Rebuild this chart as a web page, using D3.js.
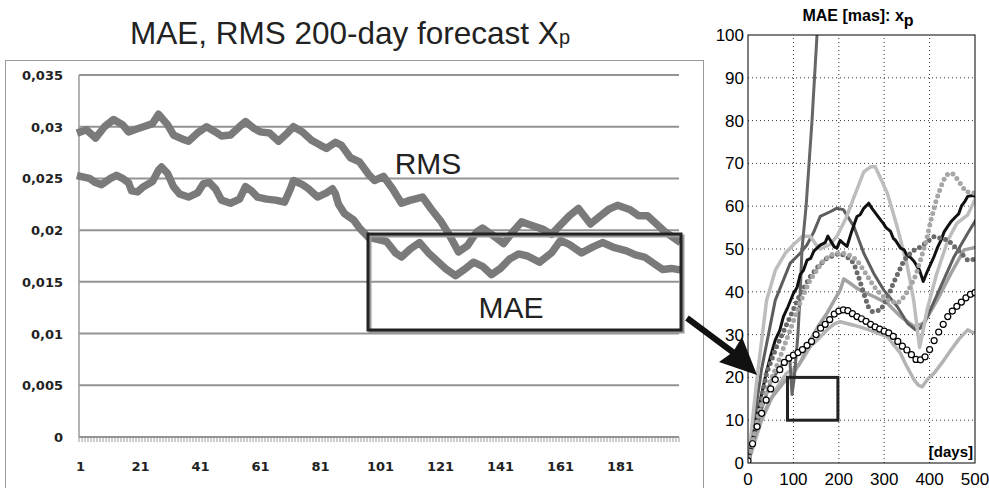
<!DOCTYPE html>
<html>
<head>
<meta charset="utf-8">
<script src="https://cdn.jsdelivr.net/npm/d3@7"></script>
<style>
  body { margin: 0; background: #fff; }
  svg { display: block; }
</style>
</head>
<body>
<div id="chart"></div>
<script>
// ---- left chart: 200-day forecast (values in 0.001 units) ----
const rmsPoints = [[1,29.5],[3,29.7],[6,28.9],[9,30.0],[12,30.7],[15,30.2],[17,29.5],[20,29.8],[22,30.0],[25,30.3],[27,31.2],[30,30.2],[32,29.2],[35,28.8],[37,28.6],[40,29.4],[43,30.0],[46,29.5],[48,29.1],[51,29.2],[54,30.0],[56,30.5],[59,29.8],[61,29.5],[64,29.4],[67,28.6],[70,29.4],[72,30.0],[75,29.5],[78,28.7],[81,28.2],[83,27.9],[86,28.5],[88,28.2],[91,27.0],[94,26.6],[97,25.4],[99,24.8],[102,25.2],[105,24.0],[108,22.6],[111,22.9],[115,23.2],[118,22.0],[121,20.9],[124,19.5],[127,17.9],[130,18.5],[133,19.8],[135,20.2],[138,19.6],[142,18.7],[145,19.8],[148,20.8],[151,20.5],[155,20.1],[158,19.6],[161,20.5],[164,21.4],[167,22.1],[171,20.6],[174,21.3],[177,22.0],[180,22.4],[184,22.0],[187,21.4],[190,21.4],[193,20.6],[196,19.8],[200,19.0]];
const maePoints = [[1,25.2],[4,25.0],[6,24.6],[8,24.4],[11,25.0],[13,25.3],[15,25.0],[17,24.6],[18,23.8],[20,23.7],[22,24.2],[25,24.7],[27,25.8],[28,26.1],[30,25.5],[32,24.2],[34,23.5],[37,23.2],[40,23.6],[42,24.5],[44,24.6],[46,24.0],[48,22.9],[51,22.6],[54,23.0],[56,24.2],[58,23.8],[60,23.2],[63,23.0],[66,22.9],[69,22.7],[71,24.0],[72,24.8],[75,24.4],[77,24.0],[80,23.2],[83,23.6],[85,24.0],[86,23.5],[87,22.5],[89,21.6],[92,21.0],[94,20.2],[97,19.3],[100,19.1],[103,18.9],[106,17.8],[108,17.4],[111,18.2],[114,18.8],[117,17.8],[120,17.0],[123,16.2],[126,15.6],[129,16.2],[132,16.9],[135,16.5],[138,15.7],[141,16.3],[144,17.2],[147,17.7],[150,17.5],[154,16.9],[158,17.8],[161,19.0],[164,18.6],[168,17.8],[172,18.4],[175,18.8],[179,18.3],[183,18.0],[186,17.6],[189,17.4],[192,16.8],[195,16.2],[198,16.3],[200,16.2]];
const leftCategories = d3.range(1, 201);
const leftTickLabels = [1, 21, 41, 61, 81, 101, 121, 141, 161, 181];
const leftYTicks = [0, 0.005, 0.01, 0.015, 0.02, 0.025, 0.03, 0.035];

// ---- right chart: MAE [mas] x_p, days 0..500 ----
const steepLine = [[0,0],[25,11],[50,19],[75,23],[92,24.5],[97,16],[102,20],[110,30],[115,40],[119,50],[128,60],[141,80],[152,100],[160,112]];
const blackLine = [[0,0],[20,11],[40,21],[50,25],[60,28.7],[70,31],[78,34.2],[88,36.5],[100,39.6],[108,41],[115,44],[122,45],[130,47.4],[138,47.8],[145,49.5],[152,50.2],[159,50.9],[170,51.5],[176,53],[181,52.1],[190,50.5],[196,50.2],[203,52],[208,51.5],[218,50.6],[228,54],[240,57.6],[247,58],[255,59.5],[266,60.7],[273,59.5],[280,58.5],[292,56.8],[298,56],[304,55],[314,54.1],[320,52.5],[325,52],[336,50.2],[344,49.8],[350,48.5],[358,48],[366,47.1],[372,46],[378,45],[386,42.4],[392,44],[398,45.5],[410,48.3],[418,50.5],[425,52],[432,54],[440,55.3],[448,56.5],[458,57.6],[464,58.2],[470,60],[477,61],[484,62.3],[495,62.5],[502,62.3]];
const lightPeakLine = [[0,0],[20,20],[41,38],[60,45],[82,49],[100,51],[120,53],[137,53],[150,51],[159,50],[180,51],[196,53],[215,57],[233,62],[255,68],[270,69.2],[280,69.3],[290,67],[307,63],[329,55],[351,46],[365,38],[378,27],[395,36],[415,44],[440,52],[460,56],[484,58],[502,62]];
const darkGrayLine = [[0,0],[30,22],[60,38],[93,46.7],[115,49],[130,51],[145,54],[159,57.6],[181,58.7],[195,59.5],[210,59.2],[220,57.5],[233,55.3],[255,49],[277,44.3],[299,40.4],[329,36.5],[351,32.7],[369,31.1],[380,31.5],[395,34.2],[425,41.3],[454,48.2],[484,53.7],[502,56.8]];
const darkDots = [[0,0],[20,10],[41,21],[63,27.2],[93,34.2],[115,39.5],[137,43.5],[155,46],[174,47.9],[203,49],[220,48],[233,46.7],[245,43],[255,39.6],[265,36.5],[274,35.4],[292,35.7],[307,38.5],[320,42],[344,47.4],[362,49.5],[380,50.5],[410,52.9],[440,52.1],[462,49.8],[484,47.4],[495,47.5],[502,48.2]];
const lightDots = [[0,0],[25,12],[45,18],[63,22.6],[93,31.1],[115,37.5],[137,42.8],[167,47.4],[189,49],[211,49],[225,48.5],[240,47.4],[258,44.5],[277,41.3],[292,39.5],[307,38.1],[329,37.3],[345,39],[358,41.3],[370,44],[380,47.4],[393,52],[403,56.8],[415,61.5],[425,64.6],[435,67],[443,67.7],[452,67.5],[462,66.2],[480,63.4],[502,63]];
const midGrayLine = [[0,0],[20,8],[50,15],[80,19],[100,21],[115,23.4],[137,28.7],[155,32],[174,35],[190,38],[203,40.4],[211,43],[225,42],[240,40.8],[258,39.8],[277,38.9],[307,37.3],[336,34.2],[366,31.9],[388,32.7],[400,35],[417,38.1],[447,44.3],[476,49.8],[506,50.5]];
const lowLightLine = [[0,0],[30,10],[60,17],[85,21],[108,22.5],[122,24.5],[137,27.2],[155,29],[174,31.1],[190,32.5],[203,33],[218,32.6],[233,32.2],[255,31.5],[277,30.7],[307,29.5],[322,27.5],[336,25.6],[350,22.5],[366,19.4],[375,18.2],[384,17.8],[395,19.5],[410,21],[428,23.5],[447,26.4],[465,29],[484,31.1],[495,30.5],[506,30.3]];
const circleDays = d3.range(0, 501, 10);
const circleValues = [0.5,4.5,8.5,11.6,14.7,17.3,19.5,21.8,23.5,24.5,25.2,25.8,26.5,27.5,28.4,30,31.5,32.4,33.5,34.8,35.5,35.8,35.6,34.9,34.2,33.7,33.1,32.4,31.8,31.3,30.8,30.4,29.6,28.4,27.3,26.4,25.3,24.2,24.1,24.8,26.5,28.6,30.6,32.4,34.2,35.5,36.6,37.6,38.6,39.4,39.8];
const rightXTicks = [0, 100, 200, 300, 400, 500];
const rightYTicks = d3.range(0, 101, 10);

const width = 989, height = 488;
const svg = d3.select("#chart").append("svg")
  .attr("width", width).attr("height", height)
  .style("font-family", "'Liberation Sans', Arial, sans-serif");

svg.append("rect").attr("width", width).attr("height", height).attr("fill", "#fff");

// ================= LEFT CHART =================
const x = d3.scaleBand().domain(leftCategories).range([79, 679]);
const y = d3.scaleLinear().domain([0, 0.035]).range([437, 75]);
const cx = d => x(d) + x.bandwidth() / 2;

// outer frame
svg.append("rect")
  .attr("x", 5.5).attr("y", 60.5).attr("width", 698).attr("height", 440)
  .attr("fill", "none").attr("stroke", "#9a9a9a").attr("stroke-width", 1);

// title
const title = svg.append("text")
  .attr("x", 350).attr("y", 44).attr("text-anchor", "middle")
  .attr("font-size", 31.5).attr("fill", "#222")
  .text("MAE, RMS 200-day forecast X");
title.append("tspan").attr("font-size", 20).text("p");

// gridlines
svg.append("g").selectAll("line").data(leftYTicks).join("line")
  .attr("x1", 79).attr("x2", 679)
  .attr("y1", d => y(d)).attr("y2", d => y(d))
  .attr("stroke", "#939393").attr("stroke-width", 2);

// y axis line
svg.append("line").attr("x1", 79).attr("x2", 79).attr("y1", y(0.035)).attr("y2", y(0))
  .attr("stroke", "#9a9a9a").attr("stroke-width", 1.5);

// category ticks
svg.append("g").selectAll("line").data(leftCategories.concat([201])).join("line")
  .attr("x1", d => d > 200 ? 679 : x(d)).attr("x2", d => d > 200 ? 679 : x(d))
  .attr("y1", y(0)).attr("y2", y(0) + 5)
  .attr("stroke", "#9a9a9a").attr("stroke-width", 1);

const fmtComma = v => String(+v.toFixed(3)).replace(".", ",");
svg.append("g").selectAll("text").data(leftYTicks).join("text")
  .attr("x", 63).attr("y", d => y(d) + 5).attr("text-anchor", "end")
  .attr("font-family", "'DejaVu Sans', sans-serif").attr("font-weight", "bold")
  .attr("font-size", 13).attr("fill", "#222")
  .text(fmtComma);

svg.append("g").selectAll("text").data(leftTickLabels).join("text")
  .attr("x", d => cx(d)).attr("y", 471).attr("text-anchor", "middle")
  .attr("font-family", "'DejaVu Sans', sans-serif").attr("font-weight", "bold")
  .attr("font-size", 13).attr("fill", "#222")
  .text(d => d);

const leftLine = d3.line().x(d => cx(d[0])).y(d => y(d[1] / 1000)).curve(d3.curveLinear);
[rmsPoints, maePoints].forEach(series => {
  svg.append("path").datum(series)
    .attr("d", leftLine).attr("fill", "none")
    .attr("stroke", "#7a7a7a").attr("stroke-width", 7.5)
    .attr("stroke-linejoin", "round").attr("stroke-linecap", "square");
});

svg.append("text").attr("x", 428).attr("y", 174).attr("text-anchor", "middle")
  .attr("font-size", 30).attr("fill", "#222").text("RMS");

// highlight box
svg.append("rect").attr("x", 370).attr("y", 236).attr("width", 313).attr("height", 96)
  .attr("fill", "none").attr("stroke", "#999").attr("stroke-width", 3);
svg.append("rect").attr("x", 368).attr("y", 234).attr("width", 313).attr("height", 96)
  .attr("fill", "none").attr("stroke", "#222").attr("stroke-width", 3);
svg.append("text").attr("x", 511).attr("y", 318).attr("text-anchor", "middle")
  .attr("font-size", 30).attr("fill", "#222").text("MAE");

// ================= RIGHT CHART =================
const xr = d3.scaleLinear().domain([0, 500]).range([748, 975]);
const yr = d3.scaleLinear().domain([0, 100]).range([463, 35]);

svg.append("defs").append("clipPath").attr("id", "rclip")
  .append("rect").attr("x", xr(0)).attr("y", yr(100))
  .attr("width", xr(500) - xr(0)).attr("height", yr(0) - yr(100));

const grid = svg.append("g");
grid.selectAll(".vg").data(rightXTicks.slice(1, -1)).join("line")
  .attr("x1", d => xr(d)).attr("x2", d => xr(d)).attr("y1", yr(0)).attr("y2", yr(100))
  .attr("stroke", "#333").attr("stroke-width", 1).attr("stroke-dasharray", "1,3");
grid.selectAll(".hg").data(rightYTicks.slice(1, -1)).join("line")
  .attr("x1", xr(0)).attr("x2", xr(500)).attr("y1", d => yr(d)).attr("y2", d => yr(d))
  .attr("stroke", "#333").attr("stroke-width", 1).attr("stroke-dasharray", "1,3");

const rline = d3.line().x(d => xr(d[0])).y(d => yr(d[1]));
const plot = svg.append("g").attr("clip-path", "url(#rclip)");

const solidSeries = [
  { data: lowLightLine, color: "#b4b4b4", w: 3.5 },
  { data: midGrayLine, color: "#a2a2a2", w: 3.5 },
  { data: darkGrayLine, color: "#5e5e5e", w: 3 },
  { data: lightPeakLine, color: "#bdbdbd", w: 3.5 },
  { data: steepLine, color: "#666", w: 3 },
  { data: blackLine, color: "#111", w: 3 }
];
const dotSeries = [
  { data: darkDots, color: "#6a6a6a" },
  { data: lightDots, color: "#a6a6a6" }
];

solidSeries.forEach(s => {
  plot.append("path").datum(s.data).attr("d", rline).attr("fill", "none")
    .attr("stroke", s.color).attr("stroke-width", s.w).attr("stroke-linejoin", "round");
});
dotSeries.forEach(s => {
  plot.append("path").datum(s.data).attr("d", rline).attr("fill", "none")
    .attr("stroke", s.color).attr("stroke-width", 5)
    .attr("stroke-linecap", "round").attr("stroke-dasharray", "0,6");
});
plot.append("g").selectAll("circle").data(circleDays).join("circle")
  .attr("cx", d => xr(d)).attr("cy", (d, i) => yr(circleValues[i])).attr("r", 3)
  .attr("fill", "#fff").attr("stroke", "#000").attr("stroke-width", 1.2);

// axes box
svg.append("rect").attr("x", xr(0)).attr("y", yr(100))
  .attr("width", xr(500) - xr(0)).attr("height", yr(0) - yr(100))
  .attr("fill", "none").attr("stroke", "#000").attr("stroke-width", 1);

svg.append("g").selectAll("text").data(rightYTicks).join("text")
  .attr("x", 744).attr("y", d => yr(d) + 6).attr("text-anchor", "end")
  .attr("font-size", 17).attr("fill", "#000").text(d => d);
svg.append("g").selectAll("text").data(rightXTicks).join("text")
  .attr("x", d => xr(d)).attr("y", 485).attr("text-anchor", "middle")
  .attr("font-size", 17).attr("fill", "#000").text(d => d);

const rTitle = svg.append("text").attr("x", 858).attr("y", 21).attr("text-anchor", "middle")
  .attr("font-size", 16).attr("font-weight", "bold").attr("fill", "#000")
  .text("MAE [mas]: x");
rTitle.append("tspan").attr("dy", 5).text("p");

svg.append("text").attr("x", 973).attr("y", 457).attr("text-anchor", "end")
  .attr("font-size", 15).attr("font-weight", "bold").attr("fill", "#000").text("[days]");

// small box on right chart
svg.append("rect").attr("x", xr(87)).attr("y", yr(20)).attr("width", xr(198) - xr(87))
  .attr("height", yr(10) - yr(20))
  .attr("fill", "none").attr("stroke", "#222").attr("stroke-width", 3);

// arrow
svg.append("line").attr("x1", 687).attr("y1", 318).attr("x2", 738).attr("y2", 356)
  .attr("stroke", "#111").attr("stroke-width", 6);
svg.append("path")
  .attr("d", "M757,375 L719,362 L733,352 L742,337 Z")
  .attr("fill", "#111");
</script>
</body>
</html>
